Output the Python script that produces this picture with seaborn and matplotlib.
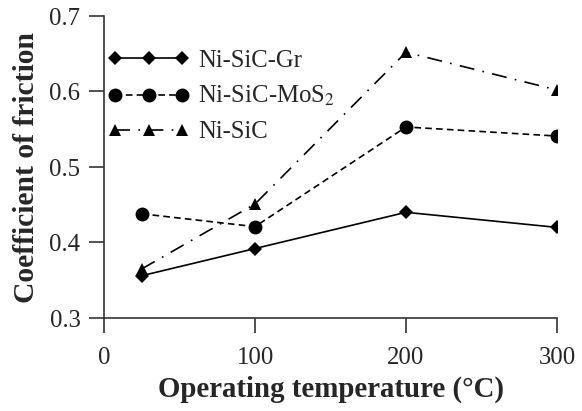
import matplotlib
matplotlib.use("Agg")
import matplotlib.pyplot as plt
import seaborn as sns
import pandas as pd

temperature = [25, 100, 200, 300]
gr = [0.356, 0.392, 0.440, 0.420]
mos2 = [0.438, 0.421, 0.553, 0.541]
sic = [0.365, 0.451, 0.652, 0.602]
series_names = ["Ni-SiC-Gr", "Ni-SiC-MoS$_2$", "Ni-SiC"]
x_ticks = [0, 100, 200, 300]
y_ticks = [0.3, 0.4, 0.5, 0.6, 0.7]

rows = []
for name, vals in zip(series_names, [gr, mos2, sic]):
    for t, v in zip(temperature, vals):
        rows.append({"T": t, "mu": v, "series": name})
df = pd.DataFrame(rows)

sns.set_style("ticks")
plt.rcParams["font.family"] = ["Liberation Serif", "DejaVu Serif"]
plt.rcParams["mathtext.fontset"] = "stix"

fig = plt.figure(figsize=(5.82, 4.11), dpi=100)
ax = fig.add_axes([104/582, 1-318/411, (557-104)/582, (318-16)/411])

markers = {series_names[0]: "D", series_names[1]: "o", series_names[2]: "^"}
dashes = {series_names[0]: "", series_names[1]: (4, 2.5), series_names[2]: (9, 5, 1, 5)}
sizes_ms = {series_names[0]: 7, series_names[1]: 10, series_names[2]: 9}

sns.lineplot(data=df, x="T", y="mu", hue="series", style="series",
             palette=["black"]*3, markers=markers, dashes=dashes,
             linewidth=1.2, markersize=9, markeredgewidth=0, ax=ax, legend=True)

for line, name in zip(ax.get_lines()[:3], series_names):
    line.set_markersize(sizes_ms[name])

handles, labels = ax.get_legend_handles_labels()
for h, name in zip(handles, labels):
    h.set_markersize(sizes_ms.get(name, 9))
ax.legend(handles, labels, loc="upper left", bbox_to_anchor=(4/453, 0.889),
          frameon=False, numpoints=3, handlelength=3.3, handletextpad=0.35,
          labelspacing=0.5, borderaxespad=0, borderpad=0, fontsize=17.8)

ax.set_xlim(0, 300)
ax.set_ylim(0.3, 0.7)
ax.set_xticks(x_ticks)
ax.set_yticks(y_ticks)
ax.set_yticklabels([f"{v:.1f}" for v in y_ticks])
ax.tick_params(axis="both", labelsize=17.8, length=11, width=1.2, color="#333333", direction="out")
ax.tick_params(axis="x", pad=10)
ax.tick_params(axis="y", pad=6)
for s in ["top", "right"]:
    ax.spines[s].set_visible(False)
for s in ["left", "bottom"]:
    ax.spines[s].set_linewidth(1.2)
    ax.spines[s].set_color("#333333")

ax.set_xlabel("Operating temperature (°C)", fontsize=20.8, fontweight="bold", labelpad=5)
ax.set_ylabel("Coefficient of friction", fontsize=21.3, fontweight="bold", labelpad=7)

fig.savefig("out.png", dpi=100)
